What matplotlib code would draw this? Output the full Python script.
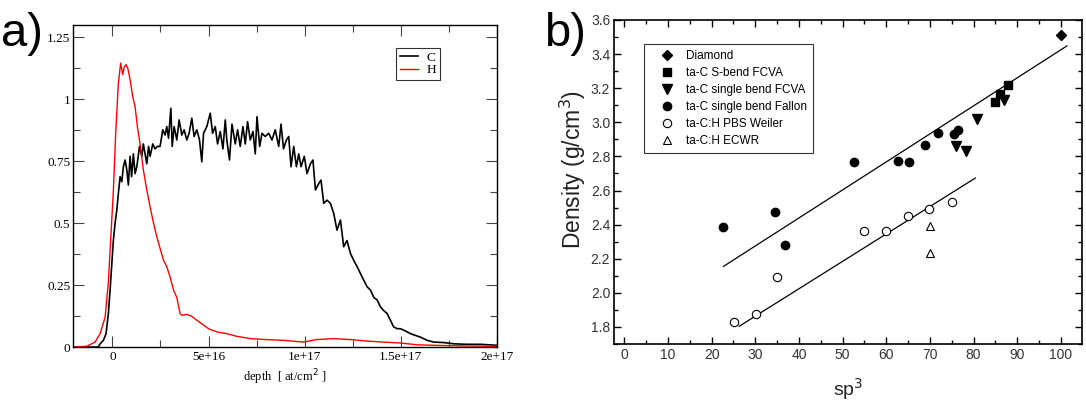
import matplotlib
matplotlib.use('Agg')

import matplotlib.pyplot as plt
import numpy as np
from matplotlib.ticker import MultipleLocator, FormatStrFormatter

# ---------------------------
# DATA  a) depth profiles (depth in 1e16 at/cm2)
# ---------------------------
h_depth = [-2.05, -1.34, -0.9, -0.64, -0.38, -0.21, -0.07, 0.05, 0.17, 0.31,
           0.43, 0.54, 0.61, 0.71, 0.80, 0.92, 1.06, 1.18, 1.30, 1.44,
           1.61, 1.79, 1.96, 2.14, 2.31, 2.48, 2.66, 2.83, 3.0, 3.18,
           3.35, 3.52, 3.61, 3.87, 4.13, 4.39, 4.65, 5.0, 5.43, 5.95,
           6.48, 7.17, 8.04, 8.9, 9.95, 10.6, 11.5, 12.4, 13.25, 14.1,
           15.0, 15.85, 16.7, 18.45, 20.0]
h_conc = [0.0, 0.003, 0.02, 0.054, 0.12, 0.26, 0.46, 0.63, 0.86, 1.065,
          1.146, 1.10, 1.13, 1.14, 1.126, 1.08, 1.01, 0.97, 0.89, 0.82,
          0.715, 0.634, 0.566, 0.50, 0.445, 0.398, 0.35, 0.324, 0.283, 0.23,
          0.20, 0.135, 0.128, 0.132, 0.124, 0.108, 0.094, 0.074, 0.061, 0.054,
          0.043, 0.034, 0.030, 0.027, 0.020, 0.030, 0.034, 0.030, 0.024, 0.020,
          0.016, 0.009, 0.007, 0.004, 0.003]

c_depth = [-2.05, -0.73, -0.64, -0.47, -0.33, -0.21, -0.12, -0.03, 0.05, 0.14,
           0.23, 0.31, 0.40, 0.49, 0.57, 0.66, 0.75, 0.83, 0.92, 1.0,
           1.09, 1.18, 1.27, 1.41, 1.53, 1.61, 1.79, 1.88, 1.96, 2.1,
           2.22, 2.34, 2.48, 2.62, 2.74, 2.83, 2.92, 3.04, 3.11, 3.21,
           3.35, 3.47, 3.61, 3.73, 3.87, 3.99, 4.13, 4.25, 4.39, 4.53,
           4.65, 4.74, 4.91, 5.09, 5.21, 5.35, 5.47, 5.61, 5.75, 5.87,
           5.95, 6.09, 6.22, 6.39, 6.51, 6.65, 6.79, 6.91, 7.03, 7.17,
           7.31, 7.43, 7.52, 7.66, 7.78, 7.95, 8.13, 8.3, 8.47, 8.65,
           8.77, 8.9, 9.05, 9.17, 9.29, 9.43, 9.57, 9.69, 9.81, 9.98,
           10.12, 10.3, 10.43, 10.56, 10.73, 10.85, 10.99, 11.16, 11.34, 11.51,
           11.68, 11.86, 12.03, 12.2, 12.38, 12.55, 12.73, 12.9, 13.07, 13.25,
           13.42, 13.6, 13.77, 13.94, 14.1, 14.29, 14.46, 14.63, 14.81, 14.98,
           15.24, 15.5, 15.76, 16.02, 16.37, 16.72, 17.24, 17.76, 18.45, 19.15,
           20.0]
c_conc = [0.0, 0.0, 0.013, 0.027, 0.054, 0.135, 0.23, 0.337, 0.43, 0.50,
          0.553, 0.62, 0.688, 0.667, 0.728, 0.755, 0.715, 0.654, 0.77, 0.688,
          0.78, 0.70, 0.728, 0.81, 0.77, 0.82, 0.74, 0.81, 0.77, 0.82,
          0.80, 0.81, 0.81, 0.877, 0.856, 0.89, 0.843, 0.964, 0.81, 0.89,
          0.836, 0.917, 0.856, 0.877, 0.836, 0.863, 0.924, 0.85, 0.877, 0.836,
          0.748, 0.863, 0.89, 0.944, 0.863, 0.89, 0.82, 0.87, 0.80, 0.917,
          0.836, 0.755, 0.90, 0.82, 0.877, 0.81, 0.89, 0.82, 0.91, 0.836,
          0.87, 0.78, 0.93, 0.81, 0.863, 0.85, 0.863, 0.836, 0.877, 0.81,
          0.90, 0.80, 0.836, 0.85, 0.728, 0.81, 0.728, 0.78, 0.728, 0.77,
          0.70, 0.74, 0.755, 0.634, 0.66, 0.674, 0.58, 0.593, 0.58, 0.54,
          0.472, 0.513, 0.405, 0.43, 0.378, 0.35, 0.324, 0.297, 0.27, 0.243,
          0.23, 0.20, 0.19, 0.162, 0.148, 0.135, 0.108, 0.081, 0.074, 0.074,
          0.065, 0.054, 0.047, 0.040, 0.027, 0.020, 0.018, 0.013, 0.011, 0.011,
          0.007]

a_xticks = [0, 5e16, 1e17, 1.5e17, 2e17]
a_xticklabels = ["0", "5e+16", "1e+17", "1.5e+17", "2e+17"]
a_yticks = [0, 0.25, 0.5, 0.75, 1.0, 1.25]
a_yticklabels = ["0", "0.25", "0.5", "0.75", "1", "1.25"]

# ---------------------------
# DATA  b) density vs sp3
# ---------------------------
diamond_sp3 = [100]
diamond_rho = [3.51]
sbend_sp3 = [85, 86, 88]
sbend_rho = [3.12, 3.165, 3.22]
single_sp3 = [76, 78.2, 80.9, 87]
single_rho = [2.86, 2.83, 3.02, 3.13]
fallon_sp3 = [22.7, 34.5, 36.9, 52.6, 62.6, 65.2, 68.8, 71.8, 75.6, 76.5]
fallon_rho = [2.387, 2.475, 2.278, 2.765, 2.772, 2.766, 2.868, 2.936, 2.929, 2.955]
weiler_sp3 = [25.1, 30.1, 35, 54.9, 59.9, 64.9, 69.8, 75]
weiler_rho = [1.829, 1.878, 2.095, 2.364, 2.364, 2.45, 2.489, 2.534]
ecwr_sp3 = [70, 70]
ecwr_rho = [2.394, 2.233]
fit1_sp3 = [22.7, 101.4]
fit1_rho = [2.155, 3.448]
fit2_sp3 = [26.3, 80.4]
fit2_rho = [1.804, 2.673]

# ---------------------------
# FIGURE
# ---------------------------
fig = plt.figure(figsize=(10.86, 4.04), dpi=100)

# ---- a)
ax_a = fig.add_axes([0.0672, 0.141, 0.3904, 0.797])
serif = "Liberation Serif"
ax_a.plot(np.array(c_depth) * 1e16, c_conc, color="black", lw=1.2, label="C")
ax_a.plot(np.array(h_depth) * 1e16, h_conc, color="red", lw=1.0, label="H")
ax_a.set_xlim(-2.05e16, 2e17)
ax_a.set_ylim(0, 1.3)
ax_a.set_xticks(a_xticks)
ax_a.set_xticklabels(a_xticklabels, fontfamily=serif, fontsize=9.5)
ax_a.set_yticks(a_yticks)
ax_a.set_yticklabels(a_yticklabels, fontfamily=serif, fontsize=9.5)
ax_a.xaxis.set_minor_locator(MultipleLocator(2.5e16))
ax_a.yaxis.set_minor_locator(MultipleLocator(0.125))
ax_a.tick_params(which="both", direction="in", top=True, right=True, width=0.8, color="#444444")
ax_a.tick_params(which="major", length=8)
ax_a.tick_params(which="minor", length=5)
ax_a.tick_params(axis="x", which="major", pad=3)
ax_a.tick_params(axis="y", which="major", pad=2)
ax_a.set_xlabel(r"depth  [ at/cm$^2$ ]", fontfamily=serif, fontsize=9, labelpad=3)
leg = ax_a.legend(loc="upper left", bbox_to_anchor=(0.7618, 0.929), prop={"family": serif, "size": 9.5},
                  frameon=True, fancybox=False, handlelength=1.35, handletextpad=0.65,
                  borderpad=0.3, labelspacing=0.0, borderaxespad=0)
leg.get_frame().set_edgecolor("black")
leg.get_frame().set_linewidth(0.8)
for s in ax_a.spines.values():
    s.set_linewidth(1.0)

# ---- b)
ax_b = fig.add_axes([0.5657, 0.1485, 0.4304, 0.802])
ms = 6
ax_b.plot(fit1_sp3, fit1_rho, color="black", lw=0.9)
ax_b.plot(fit2_sp3, fit2_rho, color="black", lw=0.9)
ax_b.plot(diamond_sp3, diamond_rho, "D", color="black", ms=5, ls="none", label="Diamond")
ax_b.plot(sbend_sp3, sbend_rho, "s", color="black", ms=ms, ls="none", label="ta-C S-bend FCVA")
ax_b.plot(single_sp3, single_rho, "v", color="black", ms=ms + 1, ls="none", label="ta-C single bend FCVA")
ax_b.plot(fallon_sp3, fallon_rho, "o", color="black", ms=ms, ls="none", label="ta-C single bend Fallon")
ax_b.plot(weiler_sp3, weiler_rho, "o", mfc="white", mec="black", mew=0.8, ms=ms, ls="none",
          label="ta-C:H PBS Weiler")
ax_b.plot(ecwr_sp3, ecwr_rho, "^", mfc="white", mec="black", mew=0.8, ms=ms, ls="none",
          label="ta-C:H ECWR")
ax_b.set_xlim(-2.3, 104.8)
ax_b.set_ylim(1.7, 3.6)
ax_b.xaxis.set_major_locator(MultipleLocator(10))
ax_b.xaxis.set_minor_locator(MultipleLocator(5))
ax_b.yaxis.set_major_locator(MultipleLocator(0.2))
ax_b.yaxis.set_minor_locator(MultipleLocator(0.1))
ax_b.yaxis.set_major_formatter(FormatStrFormatter("%.1f"))
for lab in ax_b.get_xticklabels() + ax_b.get_yticklabels():
    lab.set_fontfamily("Liberation Sans")
ax_b.tick_params(which="both", direction="in", top=True, right=True, width=1.0,
                 labelsize=10, labelcolor="#333333")
ax_b.tick_params(which="major", length=5, pad=3)
ax_b.tick_params(which="minor", length=3)
ax_b.set_xlabel(r"sp$^3$", fontfamily="Liberation Sans", fontsize=14, color="#222222", labelpad=10)
ax_b.set_ylabel(r"Density (g/cm$^3$)", fontfamily="Liberation Sans", fontsize=16.5, color="#222222")
ax_b.yaxis.set_label_coords(-0.057, 0.54)
leg2 = ax_b.legend(loc="upper left", bbox_to_anchor=(0.0635, 0.926), prop={"family": "Liberation Sans", "size": 8.5},
                   frameon=True, fancybox=False, handlelength=2.85, handletextpad=0.2,
                   borderpad=0.5, labelspacing=0.43, numpoints=1, borderaxespad=0)
leg2.get_frame().set_edgecolor("black")
leg2.get_frame().set_linewidth(0.8)
for s in ax_b.spines.values():
    s.set_linewidth(1.2)

# panel labels
fig.text(0.001, 0.885, "a)", fontsize=34, fontfamily="Liberation Sans")
fig.text(0.501, 0.885, "b)", fontsize=34, fontfamily="Liberation Sans")

fig.savefig("out.png", dpi=100)
